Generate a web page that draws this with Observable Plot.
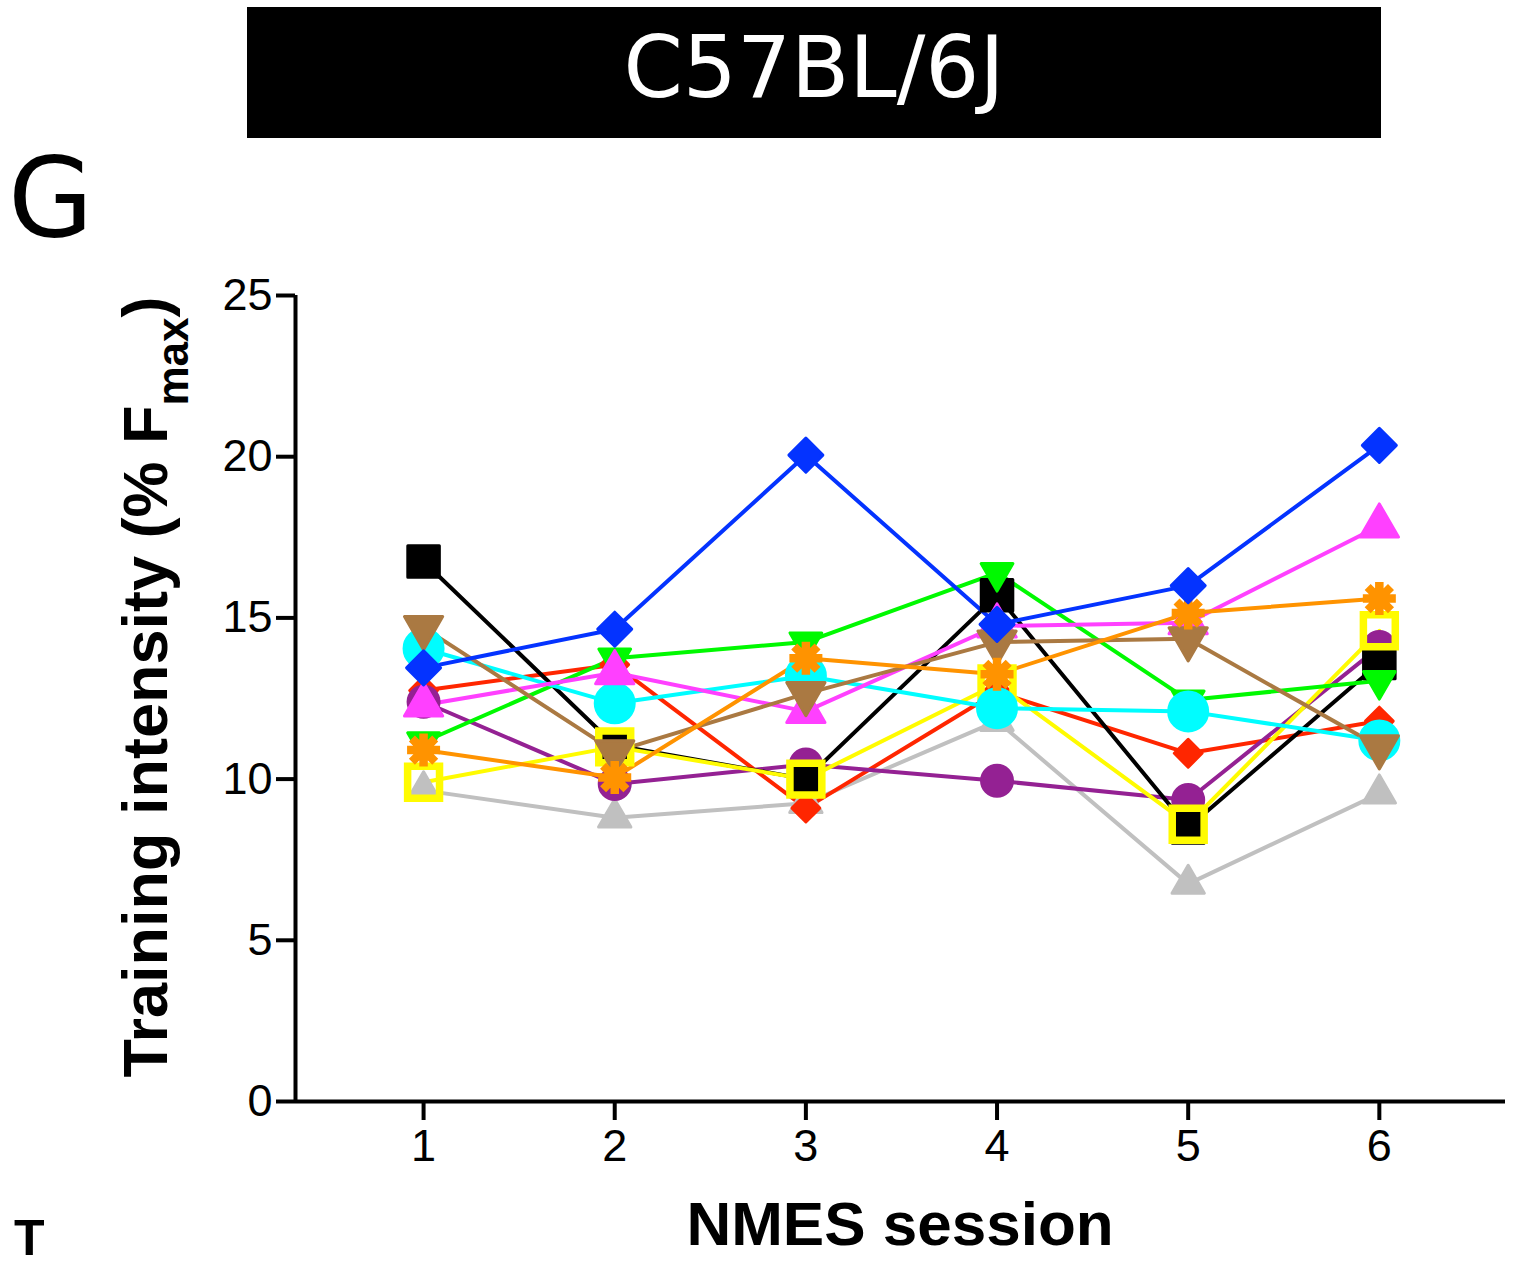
<!DOCTYPE html>
<html>
<head>
<meta charset="utf-8">
<script src="https://cdn.jsdelivr.net/npm/d3@7"></script>
<script src="https://cdn.jsdelivr.net/npm/@observablehq/plot@0.6"></script>
<style>
  html, body { margin: 0; padding: 0; background: white; }
  #chart { width: 1527px; height: 1268px; overflow: hidden; }
</style>
</head>
<body>
<div id="chart"></div>
<script>
// ---- Data ----
const sessions = [1, 2, 3, 4, 5, 6];
const yTicks = [0, 5, 10, 15, 20, 25];
const titleText = "C57BL/6J";
const panelLetter = "G";
const nextPanelLetter = "T";
const xLabel = "NMES session";
const yLabelMain = "Training intensity (% F";
const yLabelSub = "max";
const yLabelEnd = ")";

const gray    = [9.65, 8.8, 9.25, 11.8, 6.75, 9.55];
const red     = [12.75, 13.55, 9.1, 12.7, 10.8, 11.8];
const purple  = [12.4, 9.85, 10.45, 9.95, 9.35, 14.1];
const black   = [16.75, 11.05, 10.0, 15.7, 8.5, 13.6];
const yellow  = [9.9, 11.0, 10.0, 12.95, 8.6, 14.6];
const green   = [11.15, 13.75, 14.25, 16.4, 12.45, 13.05];
const cyan    = [14.05, 12.35, 13.2, 12.2, 12.1, 11.2];
const magenta = [12.3, 13.3, 12.1, 14.75, 14.85, 17.85];
const brown   = [14.7, 10.85, 12.65, 14.25, 14.35, 11.0];
const orange  = [10.9, 10.05, 13.75, 13.25, 15.15, 15.6];
const blue    = [13.45, 14.65, 20.05, 14.8, 16.0, 20.35];

// drawing order: bottom -> top
const seriesOrder = ["gray","red","purple","black","yellow","green","cyan","magenta","brown","orange","blue"];
const seriesValues = {gray, red, purple, black, yellow, green, cyan, magenta, brown, orange, blue};

const rows = seriesOrder.flatMap(name =>
  sessions.map((s, i) => ({series: name, session: s, value: seriesValues[name][i]}))
);

// ---- Styles ----
const asteriskSymbol = {
  draw(ctx, size) {
    const r = Math.sqrt(size / Math.PI);
    for (let k = 0; k < 4; k++) {
      const a = k * Math.PI / 4;
      ctx.moveTo(-r * Math.cos(a), -r * Math.sin(a));
      ctx.lineTo(r * Math.cos(a), r * Math.sin(a));
    }
  }
};

const styles = {
  gray:    {color: "#c0c0c0", symbol: "triangle", r: 12,   rotate: 0},
  red:     {color: "#ff2600", symbol: "diamond2", r: 12.5, rotate: 0},
  purple:  {color: "#942193", symbol: "circle",   r: 15.5, rotate: 0},
  black:   {color: "#000000", symbol: "square",   r: 17.8, rotate: 0},
  yellow:  {color: "#fffb00", symbol: "square",   r: 18,   rotate: 0, open: true},
  green:   {color: "#00f900", symbol: "triangle", r: 11.8, rotate: 180},
  cyan:    {color: "#00fdff", symbol: "circle",   r: 19.5, rotate: 0},
  magenta: {color: "#ff40ff", symbol: "triangle", r: 14.2, rotate: 0},
  brown:   {color: "#aa7942", symbol: "triangle", r: 14.2, rotate: 180},
  orange:  {color: "#ff9300", symbol: asteriskSymbol, r: 16.5, rotate: 0, asterisk: true},
  blue:    {color: "#0433ff", symbol: "diamond2", r: 15.3, rotate: 0}
};

const xDomain = [0.33, 6.66];
const yDomain = [0, 25];

const lineMarks = seriesOrder.map(name =>
  Plot.line(rows.filter(d => d.series === name), {
    x: "session", y: "value",
    stroke: styles[name].color, strokeWidth: 4
  })
);

const dotMarks = seriesOrder.map(name => {
  const st = styles[name];
  const opts = {x: "session", y: "value", symbol: st.symbol, r: st.r, rotate: st.rotate, strokeLinejoin: "round"};
  if (st.open) {
    Object.assign(opts, {fill: "none", stroke: st.color, strokeWidth: 7.5, strokeLinejoin: "miter"});
  } else if (st.asterisk) {
    Object.assign(opts, {fill: "none", stroke: st.color, strokeWidth: 8.5, strokeLinecap: "butt"});
  } else {
    Object.assign(opts, {fill: st.color, stroke: st.color, strokeWidth: 3});
  }
  return Plot.dot(rows.filter(d => d.series === name), opts);
});

const svg = Plot.plot({
  width: 1527,
  height: 1268,
  marginLeft: 295,
  marginRight: 22,
  marginTop: 295,
  marginBottom: 167,
  x: {domain: xDomain},
  y: {domain: yDomain},
  style: {fontFamily: "'Liberation Sans', Arial, sans-serif", background: "white", color: "black", overflow: "visible"},
  marks: [
    ...lineMarks,
    ...dotMarks,
    Plot.ruleY([yDomain[0]], {stroke: "black", strokeWidth: 4}),
    Plot.ruleX([xDomain[0]], {stroke: "black", strokeWidth: 4}),
    Plot.axisX({ticks: sessions, tickSize: 19, tickPadding: 9, fontSize: 45, strokeWidth: 4, label: null, tickFormat: d => String(d)}),
    Plot.axisY({ticks: yTicks, tickSize: 19, tickPadding: 4, fontSize: 45, strokeWidth: 4, label: null, tickFormat: d => String(d)})
  ]
});

const s = d3.select(svg);
// Title bar
s.append("rect").attr("x", 247).attr("y", 7).attr("width", 1134).attr("height", 131).attr("fill", "black");
s.append("text").attr("x", 814).attr("y", 97).attr("text-anchor", "middle")
  .attr("fill", "white").attr("font-family", "'DejaVu Sans', sans-serif").attr("font-size", 85)
  .text(titleText);
// Panel letters
s.append("text").attr("x", 8).attr("y", 236).attr("text-anchor", "start")
  .attr("font-family", "'DejaVu Sans', sans-serif").attr("font-size", 110).attr("fill", "black")
  .text(panelLetter);
s.append("text").attr("x", 14).attr("y", 1255).attr("text-anchor", "start")
  .attr("font-family", "'Liberation Sans', Arial, sans-serif").attr("font-weight", "bold").attr("font-size", 50).attr("fill", "black")
  .text(nextPanelLetter);
// X label
s.append("text").attr("x", 900).attr("y", 1245).attr("text-anchor", "middle")
  .attr("font-family", "'Liberation Sans', Arial, sans-serif").attr("font-weight", "bold").attr("font-size", 62).attr("fill", "black")
  .text(xLabel);
// Y label
const yl = s.append("text").attr("transform", "translate(167,687) rotate(-90)").attr("text-anchor", "middle")
  .attr("font-family", "'Liberation Sans', Arial, sans-serif").attr("font-weight", "bold").attr("font-size", 63).attr("fill", "black");
yl.append("tspan").text(yLabelMain);
yl.append("tspan").attr("font-size", 44).attr("dy", 21).text(yLabelSub);
yl.append("tspan").attr("dy", -21).text(yLabelEnd);

document.getElementById("chart").appendChild(svg);
</script>
</body>
</html>
